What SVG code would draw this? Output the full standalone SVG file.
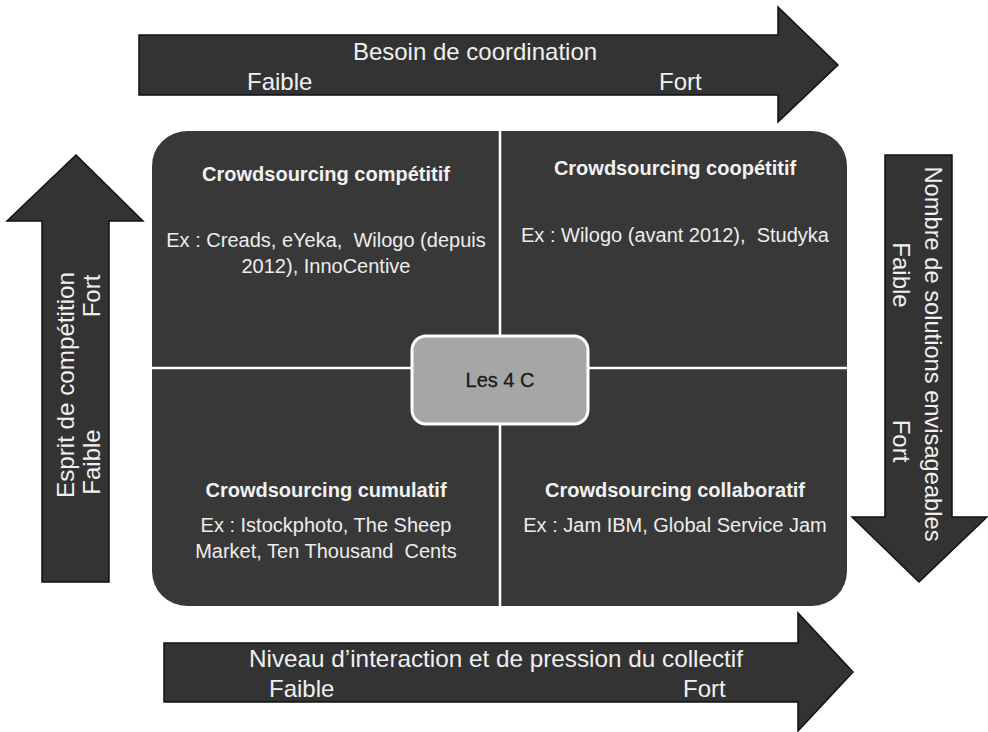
<svg xmlns="http://www.w3.org/2000/svg" width="988" height="732" viewBox="0 0 988 732">
<style>
.arrow{fill:#333333;stroke:#111111;stroke-width:1.5;stroke-linejoin:miter}
.al{font-family:"Liberation Sans",Arial,sans-serif;font-size:24px;fill:#f0f0f0}
.qt{font-family:"Liberation Sans",Arial,sans-serif;font-size:20px;font-weight:bold;fill:#f2f2f2;text-anchor:middle}
.qx{font-family:"Liberation Sans",Arial,sans-serif;font-size:20px;fill:#ededed;text-anchor:middle;white-space:pre}
.div{stroke:#ffffff;stroke-width:2.5;fill:none}
</style>
<rect width="988" height="732" fill="#ffffff"/>

<g id="arrow-top">
<polygon class="arrow" points="139,35 778,35 778,7 838,65 778,122 778,95 139,95"/>
<text class="al" x="475" y="60" text-anchor="middle">Besoin de coordination</text>
<text class="al" x="247" y="90">Faible</text>
<text class="al" x="659" y="90">Fort</text>
</g>

<g id="arrow-bottom">
<polygon class="arrow" points="164,643 798,643 798,613 853,672 798,731 798,702 164,702"/>
<text class="al" x="496" y="667" text-anchor="middle" textLength="494" lengthAdjust="spacingAndGlyphs">Niveau d’interaction et de pression du collectif</text>
<text class="al" x="269" y="697">Faible</text>
<text class="al" x="683" y="697">Fort</text>
</g>

<g id="arrow-left">
<polygon class="arrow" points="42,582 42,221 7,221 76,155 143,221 109,221 109,582"/>
<text class="al" transform="translate(74,385) rotate(-90)" text-anchor="middle" textLength="226" lengthAdjust="spacingAndGlyphs">Esprit de compétition</text>
<text class="al" transform="translate(100,296) rotate(-90)" text-anchor="middle">Fort</text>
<text class="al" transform="translate(100,462) rotate(-90)" text-anchor="middle">Faible</text>
</g>

<g id="arrow-right">
<polygon class="arrow" points="885,155 952,155 952,517 987,517 919,582 852,517 885,517"/>
<text class="al" transform="translate(925,354) rotate(90)" text-anchor="middle" textLength="375" lengthAdjust="spacingAndGlyphs">Nombre de solutions envisageables</text>
<text class="al" transform="translate(893,275) rotate(90)" text-anchor="middle">Faible</text>
<text class="al" transform="translate(893,441) rotate(90)" text-anchor="middle">Fort</text>
</g>

<g id="matrix">
<rect x="152" y="131" width="695" height="475" rx="35" ry="35" fill="#383838"/>
</g>

<g id="connectors">
<line class="div" x1="500" y1="131" x2="500" y2="606"/>
<line class="div" x1="152" y1="368" x2="847" y2="368"/>
</g>

<g id="q-competitif">
<text class="qt" x="326" y="181">Crowdsourcing compétitif</text>
<text class="qx" x="326" y="247" xml:space="preserve">Ex : Creads, eYeka,  Wilogo (depuis</text>
<text class="qx" x="326" y="273">2012), InnoCentive</text>
</g>

<g id="q-coopetitif">
<text class="qt" x="675" y="175">Crowdsourcing coopétitif</text>
<text class="qx" x="675" y="242" xml:space="preserve">Ex : Wilogo (avant 2012),  Studyka</text>
</g>

<g id="q-cumulatif">
<text class="qt" x="326" y="497">Crowdsourcing cumulatif</text>
<text class="qx" x="326" y="532">Ex : Istockphoto, The Sheep</text>
<text class="qx" x="326" y="558" xml:space="preserve">Market, Ten Thousand  Cents</text>
</g>

<g id="q-collaboratif">
<text class="qt" x="675" y="497">Crowdsourcing collaboratif</text>
<text class="qx" x="675" y="532">Ex : Jam IBM, Global Service Jam</text>
</g>

<g id="center">
<rect x="412" y="336" width="176" height="88" rx="14" ry="14" fill="#a6a6a6" stroke="#ffffff" stroke-width="3"/>
<text x="500" y="387" text-anchor="middle" font-family="'Liberation Sans',Arial,sans-serif" font-size="20" fill="#1a1a1a" stroke="#1a1a1a" stroke-width="0.3">Les 4 C</text>
</g>
</svg>
